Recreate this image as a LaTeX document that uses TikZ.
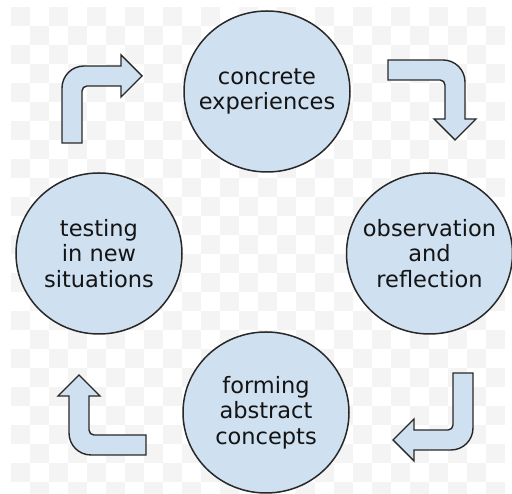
\documentclass[tikz,border=0pt]{standalone}
\usepackage{fontspec}
\setmainfont{DejaVu Sans}
\usepackage{tikz}
\usetikzlibrary{shapes.geometric}
\usepackage{xcolor}

\definecolor{stageblue}{RGB}{207,224,241}
\definecolor{edgegray}{RGB}{40,40,40}
\definecolor{inkgray}{RGB}{20,20,20}
\definecolor{checkgray}{RGB}{244,244,244}

\begin{document}
\begin{tikzpicture}[x=1pt,y=1pt]
\tikzset{
    stage/.style={%
        draw=edgegray, line width=1.5pt,
        fill=stageblue,
        ellipse, inner sep=0pt,
        minimum width=166pt,
        minimum height=161pt
        },
    stagetext/.style={%
        align=center,
        text=inkgray,
        font=\fontsize{22.5pt}{25.5pt}\selectfont
        },
    pics/turnarrow/.style={code={%
        \filldraw[fill=stageblue, draw=edgegray, line width=1.4pt, line join=miter]
        (0,0) -- (0,55) arc[start angle=180, end angle=90, radius=22]
        -- (59,77) -- (59,88) -- (80,67) -- (59,46) -- (59,57)
        -- (25,57) arc[start angle=90, end angle=180, radius=5]
        -- (20,0) -- cycle;
        }},
}
\useasboundingbox (0,0) rectangle (512,494);
\clip (0,0) rectangle (512,494);
%%%BACKGROUND
\fill[white] (0,0) rectangle (512,494);
\begin{scope}
\clip (10.7,0) rectangle (505,486.7);
\foreach \i in {0,...,25}
  \foreach \j in {0,...,25} {
    \pgfmathparse{int(mod(\i+\j,2))}
    \ifnum\pgfmathresult=0
      \fill[checkgray] (10.7+19*\i, 486.7-19*\j) rectangle ++(19,-19);
    \fi
  };
\end{scope}
%%%STAGES
\node[stage] (conc) at (267,402.5) {};
\node[stage] (obs)  at (429.5,240.5) {};
\node[stage] (form) at (266,81.5) {};
\node[stage] (test) at (99,240.5) {};
\node[stagetext] (concl) at (conc) {concrete\\experiences};
\node[stagetext] (obsl)  at (obs) {observation\\and\\reflection};
\node[stagetext] (forml) at (form) {forming\\abstract\\concepts};
\node[stagetext] (testl) at (test) {testing\\in new\\situations};
%%%TURNS
\pic (t1) at (62,351) {turnarrow};
\pic[rotate=-90] (t2) at (388,434) {turnarrow};
\pic[rotate=180] (t3) at (473,121) {turnarrow};
\pic[rotate=90] (t4) at (146,39) {turnarrow};
\end{tikzpicture}
\end{document}
